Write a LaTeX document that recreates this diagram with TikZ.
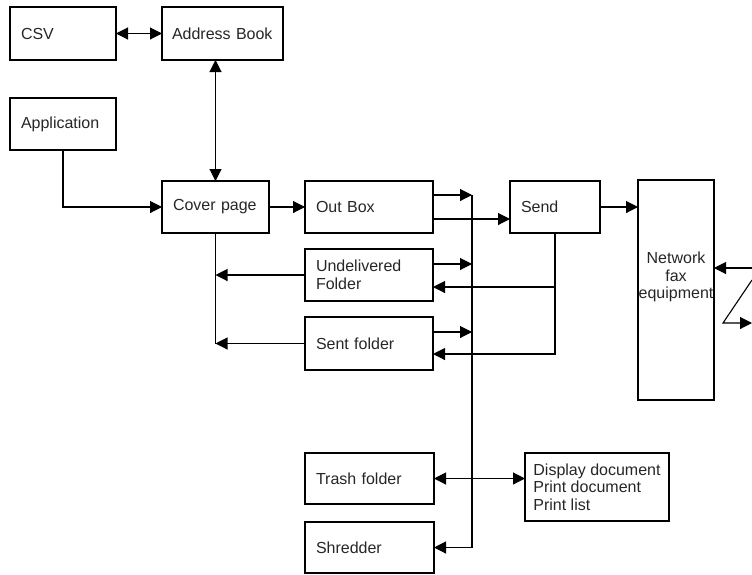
\documentclass[tikz,border=0pt]{standalone}
\usepackage{fontspec}
\setmainfont{Liberation Sans}
\usetikzlibrary{arrows.meta}
\begin{document}
\begin{tikzpicture}[x=1pt,y=-1pt,
  every node/.style={font=\fontsize{16}{17.5}\selectfont, text=black!85},
  box/.style={draw, line width=1.1pt, anchor=north west, inner xsep=11pt,
    inner ysep=0pt, align=left, outer sep=0pt},
  link/.style={line width=1.1pt},
  arr/.style={link, -{Triangle[length=12pt,width=12pt]}},
  darr/.style={link, {Triangle[length=12pt,width=12pt]}-{Triangle[length=12pt,width=12pt]}}]

% page frame
\useasboundingbox (0,0) rectangle (752,574);

% boxes
\node[box, text width=84pt,  minimum height=53pt] (csv)    at (10,7)    {CSV};
\node[box, inner xsep=10pt, text width=101pt, minimum height=53pt] (addr) at (162,7) {Address Book};
\node[box, text width=84pt,  minimum height=52pt] (app)    at (10,98)   {Application};
\node[box, text width=85pt,  minimum height=52pt] (cover)  at (162,181) {Cover page};
\node[box, text width=106pt, minimum height=52pt] (outbox) at (305,181) {Out Box};
\node[box, text width=106pt, minimum height=52pt] (undel)  at (305,249) {Undelivered\\Folder};
\node[box, text width=106pt, minimum height=53pt] (sent)   at (305,317) {Sent folder};
\node[box, text width=68pt,  minimum height=52pt] (send)   at (510,181) {Send};
\node[box, text width=107pt, minimum height=51pt] (trash)  at (305,453) {Trash folder};
\node[box, text width=107pt, minimum height=51pt] (shred)  at (305,522) {Shredder};
\node[box, inner xsep=8pt, minimum width=144pt, minimum height=68pt] (disp) at (525,453)
  {Display document\\Print document\\Print list};
\node[box, minimum width=76pt, minimum height=220pt] (nfe) at (638,180) {};
\node[inner sep=0pt, align=center] (nfetext) at ([yshift=13pt]nfe.center)
  {Network\\fax\\equipment};

% top of diagram
\draw[darr] (csv) -- (addr);
\draw[darr] (cover.north |- addr.south) -- (cover.north);
\draw[arr] (app.south) |- (cover.west);
\draw[arr] (cover) -- (outbox);

% attachment points on the folder boxes
\coordinate (obHi) at ([yshift=12pt]outbox.east);
\coordinate (obLo) at ([yshift=-12pt]outbox.east);
\coordinate (udHi) at ([yshift=11pt]undel.east);
\coordinate (udLo) at ([yshift=-12pt]undel.east);
\coordinate (sfHi) at ([yshift=11.5pt]sent.east);
\coordinate (sfLo) at ([yshift=-10.5pt]sent.east);

% shared vertical bus on the folders' right side
\coordinate (busT) at (472,195);
\draw[arr] (busT) |- (shred.east);
\draw[arr] (obHi) -- (busT);
\draw[arr] (udHi) -- (udHi -| busT);
\draw[arr] (sfHi) -- (sfHi -| busT);

% Out Box to Send, Send to network fax
\draw[arr] (obLo) -- (obLo -| send.west);
\draw[arr] (send.east) -- (send.east -| nfe.west);

% Send back to folders
\draw[arr] (send.south) |- (sfLo);
\draw[arr] (send.south |- udLo) -- (udLo);

% folders back to the cover page line
\draw[link] (cover.south) -- (cover.south |- sent.west);
\draw[arr] (undel.west) -- (undel.west -| cover.south);
\draw[arr] (sent.west) -- (sent.west -| cover.south);

% trash to display options
\draw[darr] (trash.east) -- (trash.east -| disp.west);

% line to the outside
\coordinate (zin)  at (752,268);
\coordinate (ztop) at (752,280);
\coordinate (zbot) at (723,323);
\coordinate (zout) at (752,323);
\draw[arr] (zin) -- (zin -| nfe.east);
\draw[arr] (ztop) -- (zbot) -- (zout);
\end{tikzpicture}
\end{document}
